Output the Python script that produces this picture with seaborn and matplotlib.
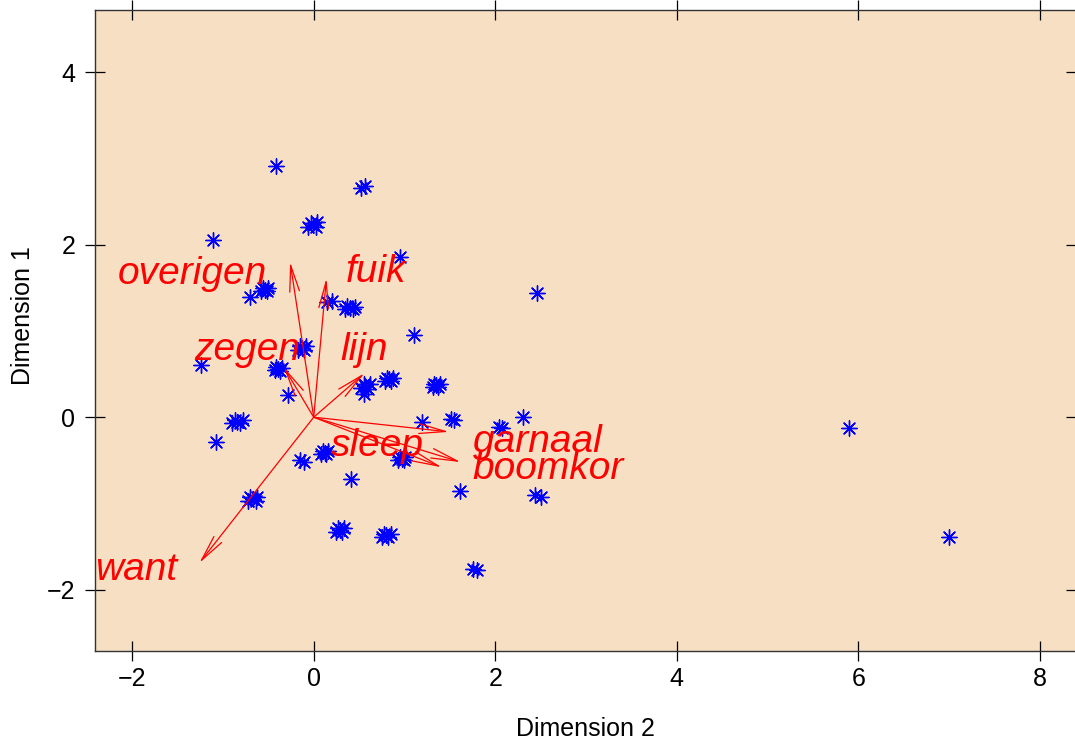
import matplotlib
matplotlib.use("Agg")
import matplotlib.pyplot as plt
import seaborn as sns

# ── Data ────────────────────────────────────────────────
# single points
single_x = [-0.41, 0.95, 2.46, -1.11, -0.70, 1.11, -1.24, -0.28, 1.19, 2.31,
            -1.08, 0.41, 1.61, 5.90, 7.00, 0.55]
single_y = [2.91, 1.86, 1.44, 2.05, 1.39, 0.95, 0.61, 0.26, -0.06, 0.00,
            -0.29, -0.72, -0.86, -0.13, -1.39, 0.27]

# small groups (2-3 overlapping points)
pair_x = [0.52, 0.57, 0.15, 0.20, 1.51, 1.55, 2.04, 2.08, -0.15, -0.11,
          2.44, 2.50, 1.76, 1.80]
pair_y = [2.66, 2.68, 1.33, 1.35, -0.02, -0.03, -0.11, -0.13, -0.50, -0.52,
          -0.90, -0.92, -1.76, -1.77]

# dense groups (many overlapping points)
dense_x = [-0.06, -0.01, 0.04, -0.03, 0.02,
           -0.58, -0.54, -0.50, -0.56, -0.52,
           0.34, 0.40, 0.46, 0.37, 0.43,
           -0.17, -0.13, -0.09, -0.15, -0.11,
           -0.43, -0.39, -0.35, -0.41, -0.37,
           0.52, 0.57, 0.62, 0.55, 0.60,
           0.79, 0.83, 0.87, 0.81, 0.85,
           1.31, 1.35, 1.39, 1.33, 1.37,
           -0.90, -0.84, -0.78, -0.87, -0.81,
           0.08, 0.12, 0.16, 0.10, 0.14,
           0.93, 0.97, 1.01, 0.95, 0.99,
           -0.72, -0.67, -0.62, -0.70, -0.64,
           0.25, 0.29, 0.33, 0.27, 0.31,
           0.75, 0.80, 0.85, 0.78, 0.82]
dense_y = [2.20, 2.23, 2.26, 2.25, 2.21,
           1.46, 1.48, 1.50, 1.50, 1.46,
           1.26, 1.27, 1.28, 1.29, 1.25,
           0.78, 0.80, 0.82, 0.82, 0.78,
           0.55, 0.56, 0.57, 0.58, 0.54,
           0.34, 0.36, 0.38, 0.39, 0.33,
           0.42, 0.44, 0.46, 0.46, 0.42,
           0.35, 0.37, 0.39, 0.39, 0.35,
           -0.07, -0.05, -0.03, -0.03, -0.07,
           -0.43, -0.41, -0.39, -0.39, -0.43,
           -0.50, -0.48, -0.46, -0.46, -0.50,
           -0.97, -0.95, -0.93, -0.93, -0.97,
           -1.33, -1.31, -1.29, -1.29, -1.33,
           -1.39, -1.37, -1.35, -1.35, -1.39]

# variable arrows
var_names = ["overigen", "fuik", "zegen", "lijn", "sleep", "garnaal", "boomkor", "want"]
var_x = [-0.26, 0.14, -0.33, 0.56, 1.41, 1.49, 1.62, -1.26]
var_y = [1.80, 1.61, 0.58, 0.51, -0.58, -0.17, -0.52, -1.69]

# label anchors
lab_x = [-0.51, 0.35, -0.15, 0.29, 0.70, 1.75, 1.75, -1.50]
lab_y = [1.66, 1.68, 0.78, 0.78, -0.33, -0.29, -0.60, -1.77]
lab_ha = ["right", "left", "right", "left", "center", "left", "left", "right"]

x_ticks = [-2, 0, 2, 4, 6, 8]
y_ticks = [-2, 0, 2, 4]

# ── Style ───────────────────────────────────────────────
sns.set_style("ticks")
plt.rcParams["font.family"] = ["Liberation Sans", "DejaVu Sans"]
plt.rcParams.update({"text.color": "black", "axes.labelcolor": "black",
                     "xtick.color": "black", "ytick.color": "black"})
BG = "#F6DFC2"

fig = plt.figure(figsize=(10.75, 7.44), dpi=100)
ax = fig.add_axes([95 / 1075, 1 - 651 / 744, (1076 - 95) / 1075, (651 - 10) / 744])
ax.set_facecolor(BG)

all_x = single_x + pair_x + dense_x
all_y = single_y + pair_y + dense_y
sns.scatterplot(x=all_x, y=all_y, marker=(8, 2, 0), color="blue", s=121,
                linewidth=1.0, ax=ax, zorder=3)

for name, vx, vy, lx, ly, ha in zip(var_names, var_x, var_y, lab_x, lab_y, lab_ha):
    ax.annotate("", xy=(vx, vy), xytext=(0, 0),
                arrowprops=dict(arrowstyle="->,head_length=1.9,head_width=0.35",
                                color="red", lw=0.9, shrinkA=0, shrinkB=0,
                                mutation_scale=10), zorder=4)
    ax.text(lx, ly, name, color="red", fontsize=28, fontstyle="italic",
            ha=ha, va="center", zorder=5)

ax.set_xlim(-2.41, 8.4)
ax.set_ylim(-2.71, 4.72)
ax.set_xticks(x_ticks)
ax.set_yticks(y_ticks)
ax.tick_params(direction="inout", length=14.4, width=0.9, top=True, right=True,
               labelsize=18, colors="black")
ax.tick_params(axis="x", pad=4)
ax.tick_params(axis="y", pad=7)
for sp in ax.spines.values():
    sp.set_color("#333333")
    sp.set_linewidth(1.0)

ax.set_xlabel("Dimension 2", fontsize=18, labelpad=19)
ax.set_ylabel("Dimension 1", fontsize=18)
ax.yaxis.set_label_coords(-0.061, 0.523)

plt.savefig("out.png", dpi=100, facecolor="white")
